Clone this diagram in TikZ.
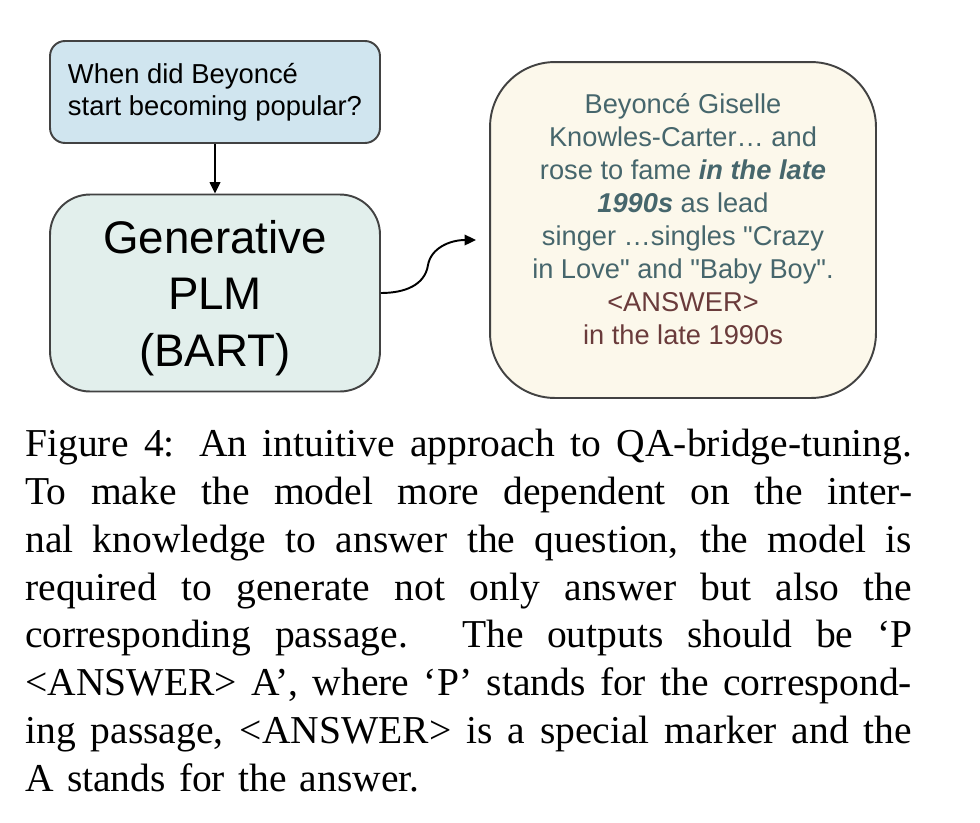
\documentclass[tikz,border=0pt]{standalone}
\usepackage{fontspec}
\setmainfont{Liberation Serif}
\newfontfamily\diagfont{Liberation Sans}
\usepackage{tikz}
\usetikzlibrary{arrows.meta, positioning}
\definecolor{QuestionBlue}{HTML}{D0E5EF}
\definecolor{ModelTeal}{HTML}{E2EFEC}
\definecolor{OutputCream}{HTML}{FCF8EB}
\definecolor{BorderGray}{HTML}{424242}
\definecolor{PassageSlate}{HTML}{46666C}
\definecolor{AnswerMaroon}{HTML}{6A3B3B}
\tikzset{
  questionbox/.style={rectangle, rounded corners=0.3cm, draw=BorderGray, line width=1.1pt, fill=QuestionBlue, minimum width=6.6cm, minimum height=2.04cm, align=left, font=\diagfont\fontsize{15.6pt}{18.2pt}\selectfont},
  modelbox/.style={rectangle, rounded corners=0.8cm, draw=BorderGray, line width=1.1pt, fill=ModelTeal, minimum width=6.6cm, minimum height=3.94cm, align=center, font=\diagfont\fontsize{26pt}{32.3pt}\selectfont},
  outputbox/.style={rectangle, rounded corners=1.3cm, draw=BorderGray, line width=1.1pt, fill=OutputCream, minimum width=7.72cm, minimum height=6.72cm},
  passagetext/.style={align=center, text=PassageSlate, font=\diagfont\fontsize{15.5pt}{18.8pt}\selectfont},
  captiontext/.style={anchor=north west, inner sep=0pt, text width=17.74cm, align=left, font=\fontsize{22.5pt}{27.2pt}\selectfont},
  arrow/.style={-{Triangle[length=6.5pt, width=6pt]}, line width=1.1pt, black}
}
\newcommand{\capline}[1]{{\spaceskip=0pt\xspaceskip=0pt\makebox[17.74cm][s]{#1}}}
\newcommand{\lowered}[1]{\raisebox{-2.8pt}[\height][\depth]{#1}}

\begin{document}
\begin{tikzpicture}[x=0.02cm, y=-0.02cm]
  \useasboundingbox (0,0) rectangle (980,822);

  % diagram
  \node[questionbox] (question) at (215,92) {When did Beyoncé\\start becoming popular?};
  \node[modelbox] (model) at (215,293) {\lowered{Generative}\\\lowered{PLM}\\\lowered{(BART)}};
  \node[outputbox] (output) at (683,230) {};
  \node[passagetext] (passage) at (683,219) {Beyoncé Giselle\\Knowles-Carter… and\\rose to fame \textbf{\textit{in the late}}\\\textbf{\textit{1990s}} as lead\\singer …singles "Crazy\\in Love" and "Baby Boy".\\\textcolor{AnswerMaroon}{<ANSWER>}\\\textcolor{AnswerMaroon}{in the late 1990s}};
  \coordinate (tip) at (476,240);

  \draw[arrow] (question) -- (model);
  \draw[arrow] (model.east) .. controls (405,293) and (425,285) .. (428,265) .. controls (431,248) and (450,240) .. (tip);

  % caption
  \node[captiontext] (caption) at (25,429) {%
    \capline{Figure 4: An intuitive approach to QA-bridge-tuning.}\\
    \capline{To make the model more dependent on the inter-}\\
    \capline{nal knowledge to answer the question, the model is}\\
    \capline{required to generate not only answer but also the}\\
    \capline{corresponding passage. The outputs should be `P}\\
    \capline{<ANSWER> A', where `P' stands for the correspond-}\\
    \capline{ing passage, <ANSWER> is a special marker and the}\\
    A stands for the answer.};
\end{tikzpicture}
\end{document}
